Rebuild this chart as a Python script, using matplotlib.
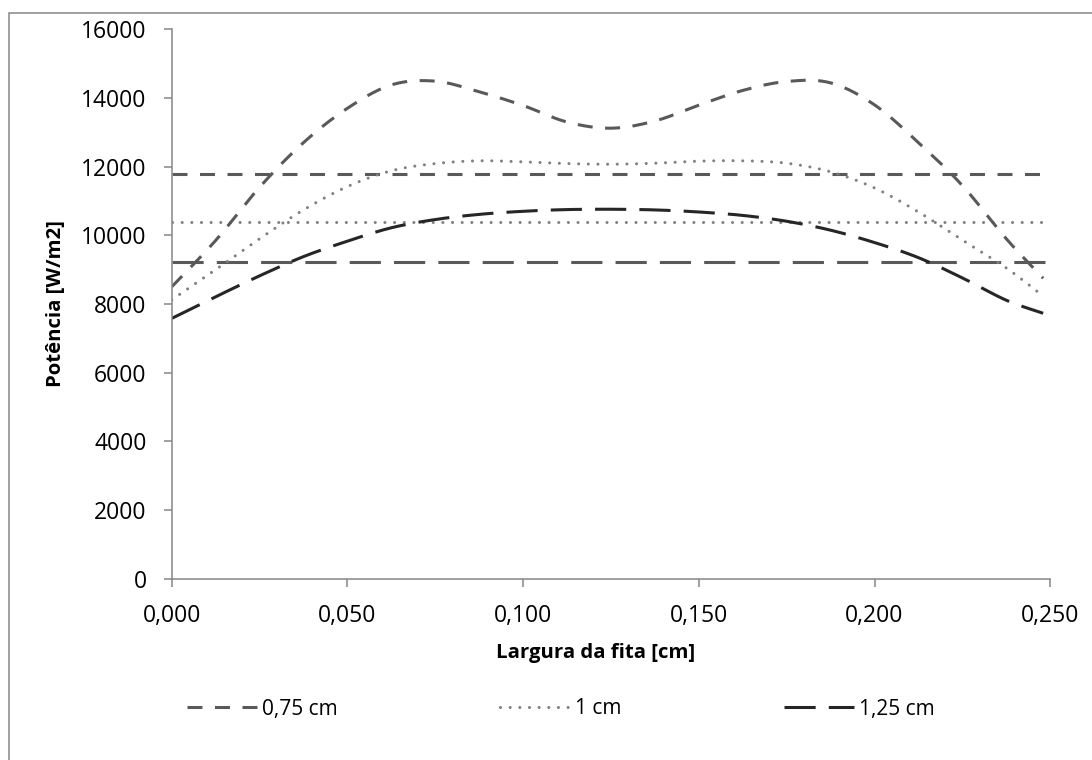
import numpy as np
import matplotlib
matplotlib.use("Agg")
import matplotlib.pyplot as plt
from matplotlib.patches import Rectangle
from matplotlib.lines import Line2D
from matplotlib.ticker import FuncFormatter, MultipleLocator

plt.rcParams['font.family'] = ['Open Sans', 'DejaVu Sans']

# Posição ao longo da largura da fita [cm]
largura = [0.000, 0.0125, 0.025, 0.0375, 0.050, 0.0625, 0.075, 0.0875, 0.100, 0.1125,
           0.125, 0.1375, 0.150, 0.1625, 0.175, 0.1875, 0.200, 0.2125, 0.225, 0.2375, 0.248]

# Potência [W/m2] para cada distância entre fitas
pot_075 = [8500, 9850, 11400, 12700, 13700, 14380, 14490, 14180, 13780, 13300,
           13120, 13330, 13790, 14220, 14480, 14440, 13800, 12700, 11450, 9900, 8750]
pot_100 = [8120, 9000, 9900, 10740, 11420, 11880, 12090, 12170, 12140, 12090,
           12070, 12100, 12160, 12170, 12100, 11850, 11380, 10680, 9860, 9050, 8230]
pot_125 = [7580, 8210, 8820, 9380, 9830, 10220, 10460, 10610, 10700, 10750,
           10760, 10740, 10680, 10580, 10410, 10150, 9790, 9350, 8760, 8110, 7730]

# Valores médios (linhas horizontais)
media_x = [0.0, 0.25]
media_075 = 11790
media_100 = 10380
media_125 = 9230

legendas = ['0,75 cm', '1 cm', '1,25 cm']


def suavizar(x, y, n=24):
    """Curva suavizada (Bezier cúbica com tangentes de Catmull-Rom)."""
    x = np.asarray(x, float)
    y = np.asarray(y, float)
    px = np.concatenate([[x[0]], x, [x[-1]]])
    py = np.concatenate([[y[0]], y, [y[-1]]])
    xs, ys = [], []
    t = np.linspace(0, 1, n, endpoint=False)
    for i in range(1, len(px) - 2):
        p0 = np.array([px[i], py[i]])
        p3 = np.array([px[i + 1], py[i + 1]])
        p1 = p0 + (np.array([px[i + 1], py[i + 1]]) - np.array([px[i - 1], py[i - 1]])) / 6
        p2 = p3 - (np.array([px[i + 2], py[i + 2]]) - np.array([px[i], py[i]])) / 6
        b = ((1 - t) ** 3)[:, None] * p0 + (3 * (1 - t) ** 2 * t)[:, None] * p1 \
            + (3 * (1 - t) * t ** 2)[:, None] * p2 + (t ** 3)[:, None] * p3
        xs.append(b[:, 0])
        ys.append(b[:, 1])
    xs.append([x[-1]])
    ys.append([y[-1]])
    return np.concatenate(xs), np.concatenate(ys)


W, H = 1092, 760
fig = plt.figure(figsize=(W / 100, H / 100), dpi=100)
fig.patch.set_facecolor('white')

# moldura do gráfico
fig.patches.append(Rectangle((9 / W, -0.1), 1.2, (H - 13) / H + 0.1, transform=fig.transFigure,
                             fill=False, edgecolor='#868686', linewidth=1.1))

ax = fig.add_axes([171.7 / W, 1 - 578.7 / H, 878.5 / W, 549.4 / H])

lw = 2.2
c075, c100, c125, cmed = '#595959', '#808080', '#262626', '#595959'
st075 = dict(color=c075, lw=lw, dashes=(4.9, 4.1), dash_capstyle='butt')
st100 = dict(color=c100, lw=lw, dashes=(0.01, 3.15), dash_capstyle='round')
st125 = dict(color=c125, lw=lw, dashes=(10.2, 4.3), dash_capstyle='butt')

ax.plot(media_x, [media_075] * 2, **st075)
ax.plot(media_x, [media_100] * 2, **st100)
ax.plot(media_x, [media_125] * 2, color=cmed, lw=lw, dashes=(10.2, 4.3))

linhas = []
for yv, st in ((pot_075, st075), (pot_100, st100), (pot_125, st125)):
    sx, sy = suavizar(largura, yv)
    linhas.append(ax.plot(sx, sy, **st)[0])

ax.set_xlim(0, 0.25)
ax.set_ylim(0, 16000)
ax.xaxis.set_major_locator(MultipleLocator(0.05))
ax.yaxis.set_major_locator(MultipleLocator(2000))
ax.xaxis.set_major_formatter(FuncFormatter(lambda v, p: f"{v:.3f}".replace('.', ',')))
ax.yaxis.set_major_formatter(FuncFormatter(lambda v, p: f"{v:.0f}"))

for s in ('top', 'right'):
    ax.spines[s].set_visible(False)
for s in ('left', 'bottom'):
    ax.spines[s].set_color('#868686')
    ax.spines[s].set_linewidth(1.1)
ax.tick_params(axis='both', direction='out', length=6, width=1.1, color='#868686',
               labelsize=16.5, labelcolor='black')
ax.tick_params(axis='x', pad=12)
ax.tick_params(axis='y', pad=12)

ax.set_xlabel('Largura da fita [cm]', fontsize=14.7, fontweight='bold')
ax.xaxis.set_label_coords(0.482, (578.7 - 643) / 549.4)
ax.set_ylabel('Potência [W/m2]', fontsize=14.7, fontweight='bold')
ax.yaxis.set_label_coords((66 - 171.7) / 878.5, 0.5)

# legenda em uma linha, abaixo do título do eixo x
fig.legend(linhas, legendas, ncol=3, loc='center left', bbox_to_anchor=(187 / W, 1 - 709 / H),
           frameon=False, fontsize=15, handlelength=3.35, handletextpad=0.25,
           columnspacing=7.8, borderpad=0, borderaxespad=0)

fig.savefig('out.png', dpi=100, facecolor='white')
